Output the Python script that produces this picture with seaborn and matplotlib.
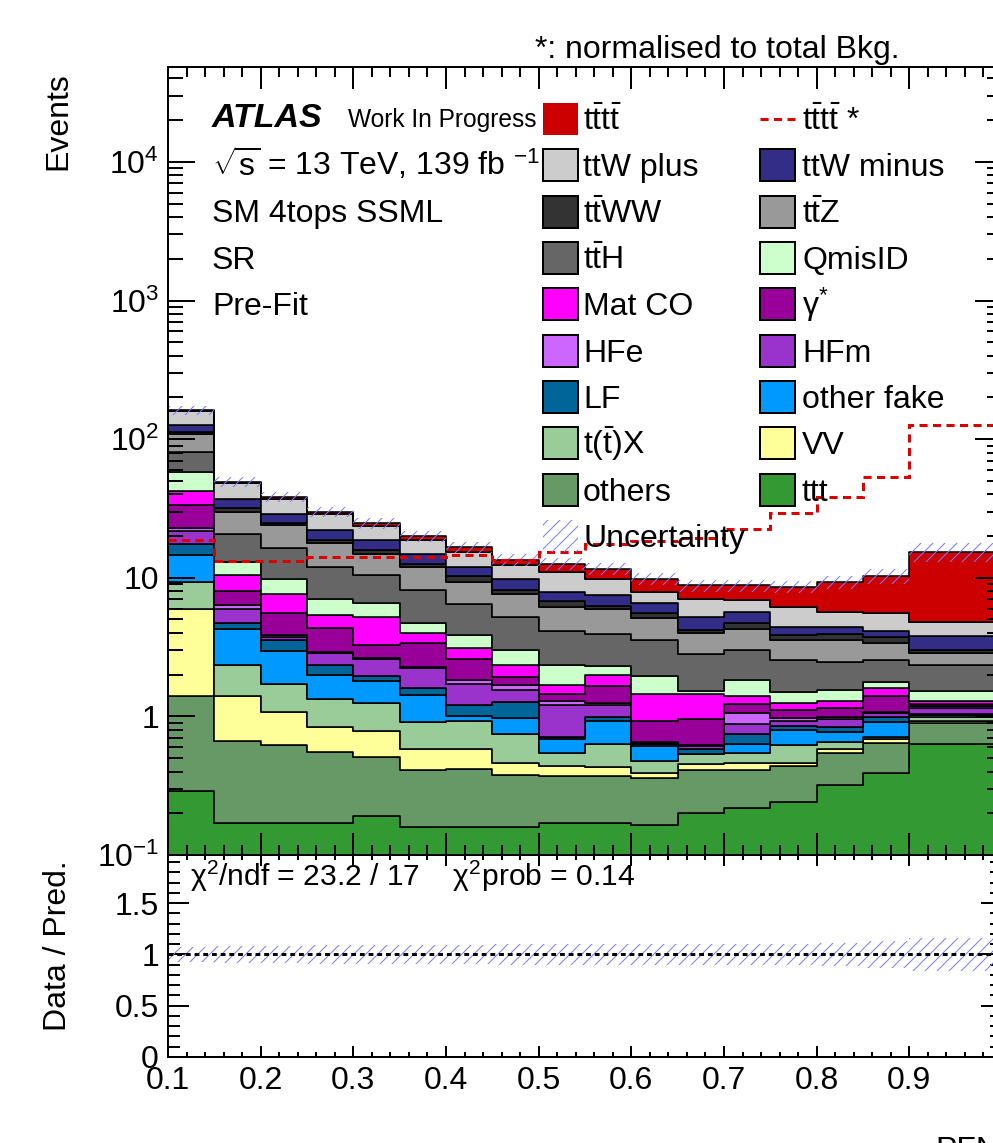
import numpy as np
import pandas as pd
import matplotlib
matplotlib.use("Agg")
import matplotlib.pyplot as plt
import seaborn as sns
from matplotlib.ticker import (MultipleLocator, LogLocator, NullFormatter,
                               FuncFormatter, FixedLocator)
from matplotlib.patches import Rectangle
from matplotlib.lines import Line2D

# ---------------------------------------------------------------- data
edges = [0.10, 0.15, 0.20, 0.25, 0.30, 0.35, 0.40, 0.45, 0.50,
         0.55, 0.60, 0.65, 0.70, 0.75, 0.80, 0.85, 0.90, 1.00]

tttt       = [1.6, 1.2, 1.2, 1.2, 1.2, 1.2, 1.25, 1.1, 1.6, 1.75, 1.95, 1.75, 1.95, 2.45, 3.7, 4.75, 10.6]
ttw_plus   = [34.0, 11.0, 8.0, 6.7, 4.7, 3.95, 3.45, 2.6, 3.1, 2.4, 1.3, 1.9, 1.2, 1.75, 1.2, 1.4, 1.0]
ttw_minus  = [13.3, 4.8, 4.2, 3.3, 2.9, 2.1, 1.7, 1.6, 1.15, 1.25, 1.05, 0.98, 0.92, 0.57, 0.51, 0.39, 0.75]
ttww       = [3.0, 2.2, 1.0, 0.85, 1.0, 0.7, 0.9, 0.52, 0.57, 0.27, 0.36, 0.22, 0.45, 0.31, 0.33, 0.39, 0.17]
ttz        = [28.8, 9.3, 7.6, 5.9, 4.4, 3.8, 2.9, 2.4, 2.07, 2.0, 1.62, 1.16, 1.3, 1.0, 1.11, 0.81, 0.53]
tth        = [22.9, 7.6, 6.5, 5.0, 3.9, 3.4, 2.6, 2.2, 1.8, 1.63, 1.6, 1.28, 1.16, 1.05, 0.93, 0.77, 0.81]
qmisid     = [15.2, 2.6, 2.15, 1.6, 1.36, 0.76, 0.72, 0.7, 0.66, 0.35, 0.5, 0.08, 0.43, 0.27, 0.25, 0.19, 0.23]
mat_co     = [8.9, 2.4, 2.1, 1.07, 1.9, 0.61, 0.56, 0.41, 0.22, 0.31, 0.52, 0.5, 0.19, 0.13, 0.15, 0.19, 0.056]
gamma_star = [10.6, 1.66, 1.67, 1.39, 0.65, 1.08, 0.75, 0.25, 0.155, 0.41, 0.27, 0.33, 0.165, 0.14, 0.16, 0.32, 0.053]
hfe        = [1.3, 0.41, 0.15, 0.07, 0.04, 0.04, 0.12, 0.13, 0.083, 0.043, 0.011, 0.013, 0.17, 0.037, 0.032, 0.029, 0.045]
hfm        = [4.3, 1.26, 0.16, 0.51, 0.65, 0.65, 0.5, 0.28, 0.51, 0.23, 0.014, 0.03, 0.136, 0.074, 0.11, 0.068, 0.1]
lf         = [2.85, 0.4, 0.58, 0.35, 0.15, 0.17, 0.21, 0.3, 0.024, 0.063, 0.017, 0.043, 0.12, 0.059, 0.067, 0.073, 0.022]
other_fake = [5.2, 1.94, 1.26, 0.66, 0.54, 0.51, 0.07, 0.225, 0.134, 0.29, 0.136, 0.005, 0.085, 0.176, 0.118, 0.197, 0.024]
ttx        = [3.43, 0.94, 0.63, 0.49, 0.47, 0.33, 0.35, 0.28, 0.11, 0.2, 0.087, 0.079, 0.088, 0.163, 0.078, 0.03, 0.063]
vv         = [4.5, 0.74, 0.46, 0.29, 0.27, 0.17, 0.16, 0.087, 0.068, 0.061, 0.031, 0.043, 0.048, 0.02, 0.032, 0.044, 0.031]
others     = [1.12, 0.49, 0.45, 0.38, 0.32, 0.25, 0.26, 0.215, 0.2, 0.2, 0.196, 0.21, 0.19, 0.2, 0.226, 0.25, 0.27]
ttt        = [0.29, 0.17, 0.17, 0.17, 0.19, 0.16, 0.16, 0.16, 0.17, 0.17, 0.165, 0.2, 0.22, 0.24, 0.32, 0.39, 0.63]

# four-top signal normalised to the total background
tttt_norm  = [18.7, 13.3, 13.3, 14.2, 14.2, 14.2, 14.5, 13.5, 15.4, 17.5, 18.3, 19.5, 22.6, 29.1, 38.3, 53.4, 126.0]
# relative uncertainty of the total prediction
rel_unc    = [0.07, 0.08, 0.08, 0.09, 0.09, 0.09, 0.09, 0.10, 0.10, 0.10, 0.10, 0.10, 0.10, 0.10, 0.11, 0.13, 0.16]

x_ticklabels = ["0.1", "0.2", "0.3", "0.4", "0.5", "0.6", "0.7", "0.8", "0.9"]
ratio_ticks = [0, 0.5, 1, 1.5]

# process name, yields, fill colour, legend label (top of stack first)
processes = [
    ("tttt",       tttt,       "#cc0000", r"$\mathrm{t\bar{t}t\bar{t}}$"),
    ("ttW plus",   ttw_plus,   "#cccccc", "ttW plus"),
    ("ttW minus",  ttw_minus,  "#332d88", "ttW minus"),
    ("ttWW",       ttww,       "#333333", r"$\mathrm{t\bar{t}WW}$"),
    ("ttZ",        ttz,        "#999999", r"$\mathrm{t\bar{t}Z}$"),
    ("ttH",        tth,        "#666666", r"$\mathrm{t\bar{t}H}$"),
    ("QmisID",     qmisid,     "#ccffcc", "QmisID"),
    ("Mat CO",     mat_co,     "#ff00ff", "Mat CO"),
    ("gamma*",     gamma_star, "#990099", r"γ$^{*}$"),
    ("HFe",        hfe,        "#cc66ff", "HFe"),
    ("HFm",        hfm,        "#9933cc", "HFm"),
    ("LF",         lf,         "#006699", "LF"),
    ("other fake", other_fake, "#0099ff", "other fake"),
    ("t(t)X",      ttx,        "#99cc99", r"$\mathrm{t(\bar{t})X}$"),
    ("VV",         vv,         "#ffff99", "VV"),
    ("others",     others,     "#669966", "others"),
    ("ttt",        ttt,        "#339933", "ttt"),
]

# ---------------------------------------------------------------- style
sns.set_theme(style="ticks", rc={
    "axes.edgecolor": "black", "xtick.color": "black", "ytick.color": "black",
    "text.color": "black", "axes.labelcolor": "black",
})
plt.rcParams["font.family"] = ["Liberation Sans", "DejaVu Sans"]
plt.rcParams["mathtext.fontset"] = "custom"
plt.rcParams["mathtext.rm"] = "Liberation Sans"
plt.rcParams["mathtext.it"] = "Liberation Sans:italic"
plt.rcParams["mathtext.bf"] = "Liberation Sans:bold"
plt.rcParams["mathtext.sf"] = "Liberation Sans"
HATCH = "#7b7bff"
plt.rcParams["hatch.color"] = HATCH
plt.rcParams["hatch.linewidth"] = 1.0

FS = 32
W, H = 993, 1143
fig = plt.figure(figsize=(W / 72, H / 72), dpi=72)


def frame(l, t, r, b):
    return [l / W, 1 - b / H, (r - l) / W, (b - t) / H]


def fx(px):
    return px / W


def fy(py):
    return 1 - py / H


ax = fig.add_axes(frame(168, 67, 1002, 855))
rax = fig.add_axes(frame(168, 855, 1002, 1057), sharex=ax)

edges_a = np.array(edges)
centres = 0.5 * (edges_a[:-1] + edges_a[1:])
order = [p[0] for p in processes]
palette = {p[0]: p[2] for p in processes}

long = pd.DataFrame(
    [(c, name, v) for name, vals, _, _ in processes for c, v in zip(centres, vals)],
    columns=["score", "process", "events"],
)

# ---------------------------------------------------------------- main stack
sns.histplot(data=long, x="score", weights="events", hue="process",
             hue_order=order, palette=palette, multiple="stack",
             bins=edges, element="step", fill=True, alpha=1.0,
             edgecolor="black", linewidth=1.6, legend=False, ax=ax)

total = np.sum([np.array(p[1]) for p in processes], axis=0)
unc = np.array(rel_unc)

ax.stairs(total * (1 + unc), edges, baseline=total * (1 - unc), fill=True,
          facecolor="none", edgecolor=HATCH, hatch="//", linewidth=0, zorder=2)
ax.stairs(tttt_norm, edges, baseline=None, color="#dd0000", linewidth=3,
          linestyle=(0, (2.7, 1.8)), zorder=3)

ax.set_yscale("log")
ax.set_xlim(edges[0], edges[-1])
ax.set_ylim(0.1, 4.84e4)
ax.set_axisbelow(False)
ax.set_xlabel("")
ax.set_ylabel("")


def log_label(v, _):
    e = int(round(np.log10(v)))
    if e == 0:
        return "1"
    if e == 1:
        return "10"
    return r"$10^{%d}$" % e


def x_label(v, _):
    i = int(round((v - 0.1) / 0.1))
    return x_ticklabels[i] if 0 <= i < len(x_ticklabels) else ""


ax.yaxis.set_major_locator(LogLocator(base=10, numticks=20))
ax.yaxis.set_minor_locator(LogLocator(base=10, subs=np.arange(2, 10), numticks=50))
ax.yaxis.set_major_formatter(FuncFormatter(log_label))
ax.yaxis.set_minor_formatter(NullFormatter())
ax.xaxis.set_major_locator(FixedLocator(np.round(np.arange(0.1, 1.01, 0.1), 2)))
ax.xaxis.set_minor_locator(MultipleLocator(0.02))

ax.tick_params(axis="x", which="major", direction="in", length=22, width=2,
               top=True, bottom=True, labelbottom=False)
ax.tick_params(axis="x", which="minor", direction="in", length=10, width=2,
               top=True, bottom=True)
ax.tick_params(axis="y", which="major", direction="in", length=27, width=2,
               left=True, right=True, labelsize=FS, pad=9)
ax.tick_params(axis="y", which="minor", direction="in", length=15, width=2,
               left=True, right=True)

# ---------------------------------------------------------------- ratio
rax.stairs(1 + unc, edges, baseline=1 - unc, fill=True, facecolor="none",
           edgecolor=HATCH, hatch="//", linewidth=0, zorder=2)
rax.axhline(1.0, color="black", linewidth=3, linestyle=(0, (1.6, 1.3)), zorder=3)
rax.set_ylim(0, 1.97)
rax.set_xlim(edges[0], edges[-1])
rax.yaxis.set_major_locator(FixedLocator(ratio_ticks))
rax.yaxis.set_minor_locator(MultipleLocator(0.1))
rax.yaxis.set_major_formatter(FuncFormatter(lambda v, _: "%g" % v))
rax.xaxis.set_major_formatter(FuncFormatter(x_label))
rax.tick_params(axis="x", which="major", direction="in", length=11, width=2,
                top=True, bottom=True, labelsize=FS, pad=9)
rax.tick_params(axis="x", which="minor", direction="in", length=5, width=2,
                top=True, bottom=True)
rax.tick_params(axis="y", which="major", direction="in", length=21, width=2,
                left=True, right=True, labelsize=FS, pad=9)
rax.tick_params(axis="y", which="minor", direction="in", length=12, width=2,
                left=True, right=True)
rax.set_xlabel("")
rax.set_ylabel("")

for a in (ax, rax):
    for s in a.spines.values():
        s.set_linewidth(2)
        s.set_color("black")

# ---------------------------------------------------------------- text
fig.text(fx(73), fy(72), "Events", rotation=90, ha="right", va="top", fontsize=FS)
fig.text(fx(73), fy(860), "Data / Pred.", rotation=90, ha="right", va="top", fontsize=FS)
fig.text(fx(935), fy(1136), "PFN", ha="left", va="top", fontsize=FS)
fig.text(fx(535), fy(58), "*: normalised to total Bkg.", ha="left",
         va="baseline", fontsize=FS)
fig.text(fx(190), fy(886), "χ$^{2}$/ndf = 23.2 / 17    χ$^{2}$prob = 0.14",
         ha="left", va="baseline", fontsize=30)

fig.text(fx(212), fy(127), "ATLAS", fontsize=34, fontweight="bold",
         fontstyle="italic", va="baseline")
fig.text(fx(348), fy(127), "Work In Progress", fontsize=24.5, va="baseline")
info = [r"$\sqrt{\mathrm{s}}$ = 13 TeV, 139 fb $^{-1}$", "SM 4tops SSML", "SR", "Pre-Fit"]
for i, line in enumerate(info):
    fig.text(fx(212), fy(175 + 46.8 * i), line, fontsize=FS, va="baseline")

# ---------------------------------------------------------------- legend
ROW0, DROW = 130, 46.33
COLS = [(543, 583), (760, 802)]
BOX_W = 35

entries = [("fill", processes[0][2], processes[0][3], False),
           ("line", "#dd0000", r"$\mathrm{t\bar{t}t\bar{t}}$ *", None)]
for name, vals, col, lab in processes[1:]:
    entries.append(("fill", col, lab, True))
entries.append(("hatch", HATCH, "Uncertainty", None))

for k, (kind, col, lab, border) in enumerate(entries):
    if kind == "hatch":
        row, c = 9, 0
    else:
        row, c = k // 2, k % 2
    base = ROW0 + DROW * row
    bx, tx = COLS[c]
    top, bot = base - 27, base + 5
    if kind == "fill":
        fig.add_artist(Rectangle((fx(bx), fy(bot)), BOX_W / W, (bot - top) / H,
                                 transform=fig.transFigure, facecolor=col,
                                 edgecolor="black" if border else col,
                                 linewidth=2 if border else 0))
    elif kind == "line":
        fig.add_artist(Line2D([fx(bx), fx(bx + BOX_W)], [fy(base - 11)] * 2,
                              transform=fig.transFigure, color=col, linewidth=3,
                              linestyle=(0, (2.7, 1.8))))
    else:
        fig.add_artist(Rectangle((fx(bx), fy(bot)), BOX_W / W, (bot - top) / H,
                                 transform=fig.transFigure, facecolor="none",
                                 edgecolor=col, hatch="//", linewidth=0))
    fig.text(fx(tx), fy(base), lab, fontsize=FS, va="baseline")

fig.savefig("out.png", dpi=72)
